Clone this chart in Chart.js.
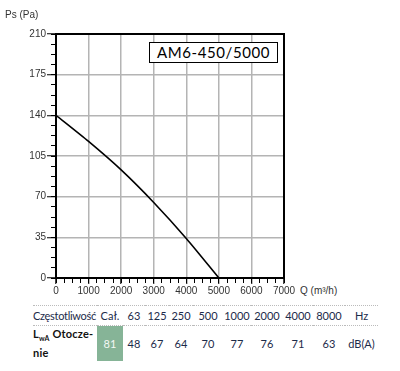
<!DOCTYPE html>
<html>
<head>
<meta charset="utf-8">
<script src="https://cdn.jsdelivr.net/npm/chart.js@4"></script>
<style>
  body { margin: 0; background: #fff; width: 400px; height: 371px; overflow: hidden; position: relative; font-family: "Liberation Sans", Arial, sans-serif; }
  #wykres { position: absolute; left: 0; top: 0; }
  .lbl { position: absolute; font-size: 10px; color: #333; white-space: nowrap; }
  #model { position: absolute; left: 149px; top: 42px; width: 127px; height: 19px; border: 1px solid #000; background: #fff;
           font-family: Lato, sans-serif; font-size: 15px; letter-spacing: 0.6px; text-align: center; line-height: 19px; color: #000; }
  #tabela { position: absolute; left: 33px; top: 305px; border-collapse: collapse; font-family: Lato, sans-serif; font-size: 11px; color: #1c2b4a; table-layout: fixed; }
  #tabela td { padding: 0; text-align: center; white-space: nowrap; }
  #tabela tr.czest td { height: 19px; border-top: 1px dotted #bbb; border-bottom: 1px dotted #bbb; }
  #tabela tr.poziom td { height: 35px; }
  #tabela td.opis { text-align: left; letter-spacing: -0.3px; }
  #tabela tr.poziom td.opis { font-weight: bold; color: #111; line-height: 14px; font-size: 11px; letter-spacing: 0.2px; }
  #tabela td.calk { background: #86b497; color: #f4f8f4; }
</style>
</head>
<body>
<canvas id="wykres" width="300" height="302"></canvas>
<div class="lbl" style="left:5px; top:9px;">Ps (Pa)</div>
<div class="lbl" style="left:300px; top:285px;">Q (m³/h)</div>
<div id="model">AM6-450/5000</div>
<table id="tabela"></table>

<script>
// Krzywa wentylatora - przepływ Q (m3/h) i ciśnienie Ps (Pa)
const przeplyw = [0, 1000, 2000, 3000, 4000, 5000];
const cisnienie = [140, 117.5, 93, 65, 34, 0];

// Tabela hałasu
const czestotliwosci = ['Cał.', '63', '125', '250', '500', '1000', '2000', '4000', '8000'];
const poziomyLwA = [81, 48, 67, 64, 70, 77, 76, 71, 63];
const jednostkaCzest = 'Hz';
const jednostkaPoziom = 'dB(A)';

// szerokości kolumn tabeli (układ)
const szerokosciKolumn = [64, 26, 22, 24, 24, 30, 28, 32, 30, 32, 33];

const szary = '#b4b4b4';
const czcionka = { family: 'Liberation Sans', size: 10 };

function osMala(pozycja, krok, max) {
  // oś pomocnicza tylko z małymi kreskami
  return {
    type: 'linear', position: pozycja, min: 0, max: max, weight: 0,
    ticks: { display: false, stepSize: krok },
    grid: { drawOnChartArea: false, tickLength: 5, color: '#000', lineWidth: 1 },
    border: { display: false },
    afterFit(s) { if (pozycja === 'left') s.width = 0; else s.height = 0; }
  };
}

const ctx = document.getElementById('wykres').getContext('2d');
const chart = new Chart(ctx, {
  type: 'line',
  data: {
    datasets: [{
      data: przeplyw.map((q, i) => ({ x: q, y: cisnienie[i] })),
      borderColor: '#000',
      borderWidth: 1.6,
      pointRadius: 0,
      tension: 0.25,
      xAxisID: 'x',
      yAxisID: 'y'
    }]
  },
  options: {
    responsive: false,
    animation: false,
    layout: { padding: { top: 34, right: 16, left: 0, bottom: 0 } },
    plugins: { legend: { display: false }, tooltip: { enabled: false } },
    scales: {
      x: {
        type: 'linear', position: 'bottom', min: 0, max: 7000, weight: 1,
        ticks: { stepSize: 1000, color: '#333', font: czcionka, padding: 1, maxRotation: 0, autoSkip: false,
                 callback: v => String(v) },
        grid: { color: szary, lineWidth: 1.5, tickLength: 6, tickColor: '#000', tickWidth: 1 },
        border: { color: '#000', width: 2 },
        afterFit(s) { s.height = 24; }
      },
      xMaly: osMala('bottom', 250, 7000),
      y: {
        type: 'linear', position: 'left', min: 0, max: 210, weight: 1,
        ticks: { stepSize: 35, color: '#333', font: czcionka, padding: 1, callback: v => String(v) },
        grid: { color: szary, lineWidth: 1.5, tickLength: 9, tickColor: '#000', tickWidth: 1 },
        border: { color: '#000', width: 2 },
        afterFit(s) { s.width = 56; }
      },
      yMaly: osMala('left', 8.75, 210),
      xGora: {
        type: 'linear', position: 'top', min: 0, max: 7000,
        ticks: { display: false }, grid: { display: false },
        border: { color: '#000', width: 2 },
        afterFit(s) { s.height = 0; }
      },
      yPrawa: {
        type: 'linear', position: 'right', min: 0, max: 210,
        ticks: { display: false }, grid: { display: false },
        border: { color: '#000', width: 2 },
        afterFit(s) { s.width = 0; }
      }
    }
  }
});

// Budowa tabeli z tablic danych
const tabela = document.getElementById('tabela');
const cg = document.createElement('colgroup');
szerokosciKolumn.forEach(w => {
  const c = document.createElement('col');
  c.style.width = w + 'px';
  cg.appendChild(c);
});
tabela.appendChild(cg);

const wiersz1 = document.createElement('tr');
wiersz1.className = 'czest';
wiersz1.innerHTML = '<td class="opis">Częstotliwość</td>' +
  czestotliwosci.map(f => `<td>${f}</td>`).join('') + `<td>${jednostkaCzest}</td>`;
tabela.appendChild(wiersz1);

const wiersz2 = document.createElement('tr');
wiersz2.className = 'poziom';
wiersz2.innerHTML = '<td class="opis">L<sub style="font-size:7px">wA</sub> Otocze-<br>nie</td>' +
  poziomyLwA.map((v, i) => `<td${i === 0 ? ' class="calk"' : ''}>${v}</td>`).join('') +
  `<td>${jednostkaPoziom}</td>`;
tabela.appendChild(wiersz2);
</script>
</body>
</html>
